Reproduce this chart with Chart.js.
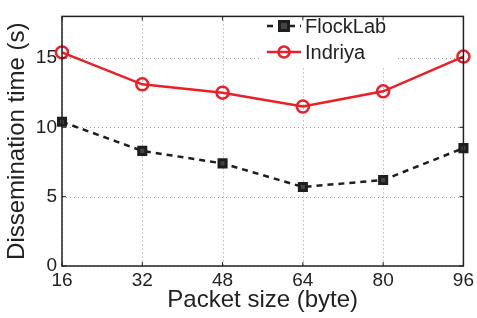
<!DOCTYPE html>
<html>
<head>
<meta charset="utf-8">
<script src="https://cdn.jsdelivr.net/npm/chart.js@4/dist/chart.umd.min.js"></script>
<style>
  html, body { margin: 0; padding: 0; background: #fff; }
  #wrap { width: 477px; height: 318px; }
</style>
</head>
<body>
<div id="wrap"><canvas id="c" width="477" height="318"></canvas></div>
<script>
'use strict';

// ── data ──
const packetSizes = [16, 32, 48, 64, 80, 96];
const flocklab    = [10.4, 8.3, 7.4, 5.7, 6.2, 8.5];
const indriya     = [15.4, 13.1, 12.5, 11.5, 12.6, 15.1];
const yTicks      = [0, 5, 10, 15];

const RED = '#ea1f27', DARK = '#1e1e1e';
const FONT = '"Liberation Sans", Arial, Helvetica, sans-serif';

// dotted grid + white legend patch, drawn under the lines
const gridPlugin = {
  id: 'dotGrid',
  beforeDatasetsDraw(chart) {
    const { ctx, chartArea: a, scales: { x, y } } = chart;
    ctx.save();
    ctx.strokeStyle = '#9a9a9a';
    ctx.lineWidth = 1;
    ctx.setLineDash([1, 3]);
    ctx.beginPath();
    packetSizes.forEach((_, i) => {
      const px = Math.round(x.getPixelForValue(i)) + 0.5;
      ctx.moveTo(px, a.top); ctx.lineTo(px, a.bottom);
    });
    yTicks.forEach(v => {
      const py = Math.round(y.getPixelForValue(v)) + 0.5;
      ctx.moveTo(a.left, py); ctx.lineTo(a.right, py);
    });
    ctx.stroke();
    ctx.setLineDash([]);
    ctx.fillStyle = '#fff';
    ctx.fillRect(262, 9, 133, 59);
    ctx.restore();
  }
};

// Matlab-ish box frame with inward ticks, plus the legend
const framePlugin = {
  id: 'frame',
  afterDatasetsDraw(chart) {
    const { ctx, chartArea: a, scales: { x, y } } = chart;
    ctx.save();
    ctx.strokeStyle = '#222';
    ctx.lineWidth = 1.5;
    ctx.strokeRect(a.left, a.top, a.right - a.left, a.bottom - a.top);
    ctx.lineWidth = 1;
    ctx.beginPath();
    packetSizes.forEach((_, i) => {
      const px = x.getPixelForValue(i);
      ctx.moveTo(px, a.bottom); ctx.lineTo(px, a.bottom - 4);
      ctx.moveTo(px, a.top);    ctx.lineTo(px, a.top + 4);
    });
    yTicks.forEach(v => {
      const py = y.getPixelForValue(v);
      ctx.moveTo(a.left, py);  ctx.lineTo(a.left + 4, py);
      ctx.moveTo(a.right, py); ctx.lineTo(a.right - 4, py);
    });
    ctx.stroke();

    // legend — FlockLab
    ctx.strokeStyle = DARK; ctx.lineWidth = 2.5;
    ctx.setLineDash([6, 5]);
    ctx.beginPath(); ctx.moveTo(267, 26); ctx.lineTo(301, 26); ctx.stroke();
    ctx.setLineDash([]);
    ctx.fillStyle = '#444'; ctx.lineWidth = 3;
    ctx.fillRect(279.5, 21.5, 9, 9); ctx.strokeRect(279.5, 21.5, 9, 9);
    // legend — Indriya
    ctx.strokeStyle = RED; ctx.lineWidth = 2.5;
    ctx.beginPath(); ctx.moveTo(267, 52); ctx.lineTo(301, 52); ctx.stroke();
    ctx.beginPath(); ctx.arc(284, 52, 5.5, 0, Math.PI * 2); ctx.stroke();
    ctx.fillStyle = '#222';
    ctx.font = '20px ' + FONT;
    ctx.textBaseline = 'middle';
    ctx.fillText('FlockLab', 305, 27);
    ctx.fillText('Indriya', 305, 53);
    ctx.restore();
  }
};

const tickFont = { family: FONT, size: 19 };

new Chart(document.getElementById('c'), {
  type: 'line',
  data: {
    labels: packetSizes,
    datasets: [
      { label: 'FlockLab', data: flocklab, borderColor: DARK, borderWidth: 2.5, borderDash: [6, 5],
        pointStyle: 'rect', pointRadius: 5, pointBorderWidth: 3, pointBackgroundColor: '#444',
        pointBorderColor: DARK, tension: 0 },
      { label: 'Indriya', data: indriya, borderColor: RED, borderWidth: 2.5,
        pointStyle: 'circle', pointRadius: 6, pointBorderWidth: 2.5, pointBackgroundColor: 'rgba(0,0,0,0)',
        pointBorderColor: RED, tension: 0 }
    ]
  },
  options: {
    responsive: false,
    animation: false,
    layout: { padding: { top: 7, right: 13, left: 0, bottom: 0 } },
    plugins: { legend: { display: false }, tooltip: { enabled: false } },
    scales: {
      x: {
        offset: false,
        grid: { display: false, drawTicks: false },
        border: { display: false },
        ticks: { color: '#222', font: tickFont, padding: 3, maxRotation: 0 },
        title: { display: true, text: 'Packet size (byte)', color: '#222', font: { family: FONT, size: 24 },
                 padding: { top: 0, bottom: 3 } },
        afterFit(s) { s.height = 52; }
      },
      y: {
        min: 0, max: 18,
        grid: { display: false, drawTicks: false },
        border: { display: false },
        ticks: { color: '#222', font: tickFont, padding: 5, stepSize: 5 },
        afterBuildTicks(s) { s.ticks = yTicks.map(v => ({ value: v })); },
        title: { display: true, text: 'Dissemination time (s)', color: '#222', font: { family: FONT, size: 24 },
                 padding: { top: 3, bottom: 0 } },
        afterFit(s) { s.width = 62; }
      }
    }
  },
  plugins: [gridPlugin, framePlugin]
});
</script>
</body>
</html>
